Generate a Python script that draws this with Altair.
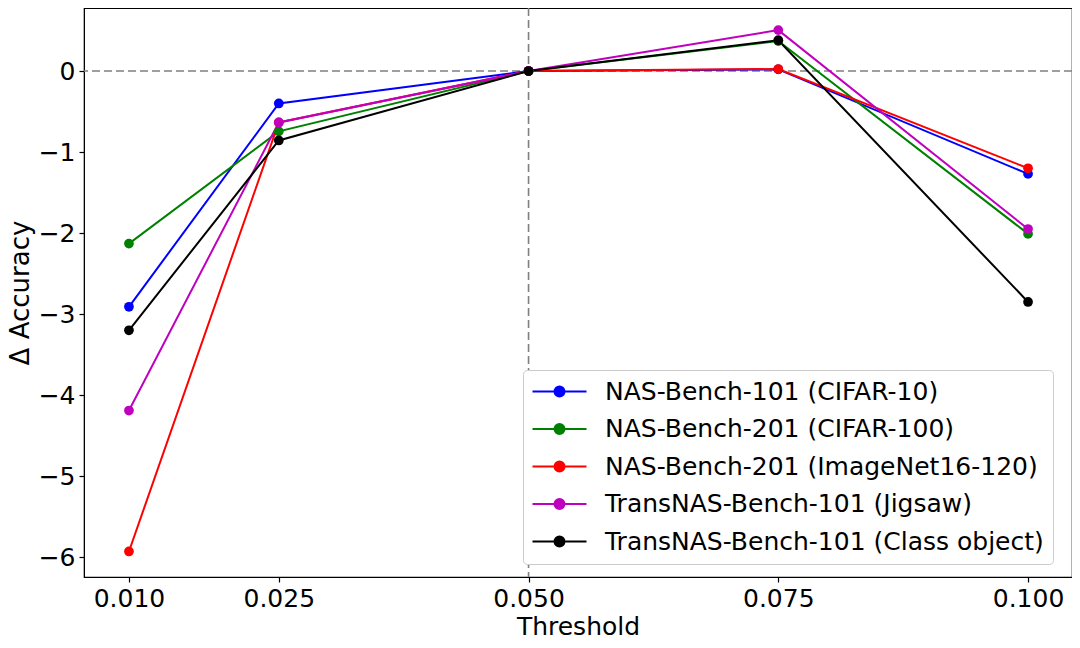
import altair as alt
import pandas as pd

thresholds = [0.010, 0.025, 0.050, 0.075, 0.100]
series_names = [
    "NAS-Bench-101 (CIFAR-10)",
    "NAS-Bench-201 (CIFAR-100)",
    "NAS-Bench-201 (ImageNet16-120)",
    "TransNAS-Bench-101 (Jigsaw)",
    "TransNAS-Bench-101 (Class object)",
]
nb101_cifar10 = [-2.91, -0.40, 0.0, 0.02, -1.27]
nb201_cifar100 = [-2.13, -0.745, 0.0, 0.37, -2.01]
nb201_imagenet = [-5.93, -0.635, 0.0, 0.025, -1.20]
tnb_jigsaw = [-4.19, -0.635, 0.0, 0.505, -1.95]
tnb_class = [-3.20, -0.857, 0.0, 0.38, -2.85]
colors = ["#0000ff", "#008000", "#ff0000", "#bf00bf", "#000000"]

x_ticks = [0.010, 0.025, 0.050, 0.075, 0.100]
y_ticks = [-6, -5, -4, -3, -2, -1, 0]
ref_x = [0.05]
ref_y = [0.0]

all_series = [nb101_cifar10, nb201_cifar100, nb201_imagenet, tnb_jigsaw, tnb_class]
rows = []
for i, (name, vals) in enumerate(zip(series_names, all_series)):
    for t, v in zip(thresholds, vals):
        rows.append({"Threshold": t, "Delta": v, "Series": name, "order": i})
df = pd.DataFrame(rows)

FONT = "DejaVu Sans"
FS = 25

x_scale = alt.Scale(domain=[0.0055, 0.1044], nice=False, zero=False)
y_scale = alt.Scale(domain=[-6.245, 0.778], nice=False, zero=False)
color_scale = alt.Scale(domain=series_names, range=colors)

# line-with-dot legend glyph, shifted right so it starts at the symbol box's left edge
legend_symbol = "M-1.2,0L4.2,0M1.0,0A0.5,0.5 0 1,1 2.0,0A0.5,0.5 0 1,1 1.0,0Z"

base = alt.Chart(df)

x_enc = alt.X(
    "Threshold:Q",
    scale=x_scale,
    axis=alt.Axis(
        values=x_ticks, format=".3f", title="Threshold", grid=False,
        labelFontSize=FS, titleFontSize=FS, labelFont=FONT, titleFont=FONT,
        labelColor="black", titleColor="black", tickColor="black", domainColor="black",
        tickSize=5, tickWidth=1.2, labelPadding=4, titlePadding=3, titleFontWeight="normal",
    ),
)
y_enc = alt.Y(
    "Delta:Q",
    scale=y_scale,
    axis=alt.Axis(
        values=y_ticks, format="d", title="Δ Accuracy", grid=False,
        labelFontSize=FS, titleFontSize=26, labelFont=FONT, titleFont=FONT,
        labelColor="black", titleColor="black", tickColor="black", domainColor="black",
        tickSize=5, tickWidth=1.2, labelPadding=4, titlePadding=5, titleFontWeight="normal",
    ),
)
color_enc = alt.Color(
    "Series:N",
    scale=color_scale,
    sort=series_names,
    legend=alt.Legend(
        title=None,
        orient="none",
        legendX=439,
        legendY=362,
        symbolType=legend_symbol,
        symbolSize=400,
        symbolStrokeWidth=2,
        labelFontSize=FS,
        labelFont=FONT,
        labelColor="black",
        labelLimit=700,
        rowPadding=11.5,
        labelOffset=48,
        padding=9,
        fillColor="white",
        strokeColor="#cccccc",
        cornerRadius=4,
    ),
)

hrule = alt.Chart(pd.DataFrame({"y": ref_y})).mark_rule(
    color="#808080", strokeDash=[8, 4], strokeWidth=1.6
).encode(y=alt.Y("y:Q", scale=y_scale))
vrule = alt.Chart(pd.DataFrame({"x": ref_x})).mark_rule(
    color="#808080", strokeDash=[8, 4], strokeWidth=1.6
).encode(x=alt.X("x:Q", scale=x_scale))

lines = base.mark_line(strokeWidth=2).encode(
    x=x_enc, y=y_enc, color=color_enc, detail="Series:N", order="Threshold:Q"
)
points = base.mark_point(filled=True, size=95, opacity=1, shape="circle").encode(
    x="Threshold:Q", y="Delta:Q", color=alt.Color("Series:N", scale=color_scale, sort=series_names)
)

chart = alt.layer(hrule, vrule, lines, points).properties(
    width=988,
    height=569,
    autosize=alt.AutoSizeParams(type="none"),
    padding={"left": 76, "top": 0, "right": 0, "bottom": 62},
).configure_view(
    stroke="black", strokeWidth=1.2
).configure_axis(
    domain=True
)

chart.save("out.html", embed_options={"renderer": "svg", "actions": False})
